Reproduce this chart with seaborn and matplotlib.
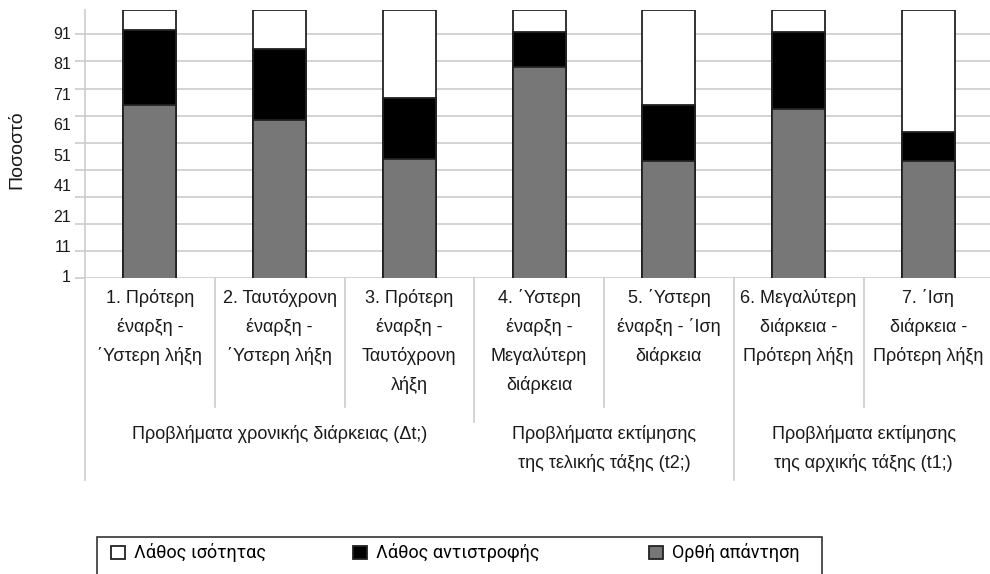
import numpy as np
import pandas as pd
import seaborn as sns
import matplotlib.pyplot as plt
from matplotlib.patches import Patch, Rectangle
from matplotlib.transforms import blended_transform_factory

# Δεδομένα (ποσοστά)
categories = [
    "1. Πρότερη\nέναρξη -\n΄Υστερη λήξη",
    "2. Ταυτόχρονη\nέναρξη -\n΄Υστερη λήξη",
    "3. Πρότερη\nέναρξη -\nΤαυτόχρονη\nλήξη",
    "4. ΄Υστερη\nέναρξη -\nΜεγαλύτερη\nδιάρκεια",
    "5. ΄Υστερη\nέναρξη - ΄Ιση\nδιάρκεια",
    "6. Μεγαλύτερη\nδιάρκεια -\nΠρότερη λήξη",
    "7. ΄Ιση\nδιάρκεια -\nΠρότερη λήξη",
]
correct = [64.9, 59.4, 44.8, 78.8, 44.1, 63.5, 44.1]
inversion_err = [27.7, 26.1, 22.8, 13.0, 20.7, 28.3, 10.8]
equality_err = [7.4, 14.5, 32.4, 8.2, 35.2, 8.2, 45.1]

series_names = ["Λάθος ισότητας", "Λάθος αντιστροφής", "Ορθή απάντηση"]
series_colors = ["white", "black", "#777777"]

groups = [
    "Προβλήματα χρονικής διάρκειας (Δt;)",
    "Προβλήματα εκτίμησης\nτης τελικής τάξης (t2;)",
    "Προβλήματα εκτίμησης\nτης αρχικής τάξης (t1;)",
]
group_sizes = [3, 2, 2]

ytick_labels = ["91", "81", "71", "61", "51", "41", "21", "11", "1"]

df = pd.DataFrame({
    "cat": categories,
    "correct": correct,
    "inversion": inversion_err,
    "equality": equality_err,
})
df["c1"] = df["correct"]
df["c2"] = df["correct"] + df["inversion"]
df["c3"] = df["c2"] + df["equality"]

plt.rcParams["font.family"] = ["Liberation Sans", "DejaVu Sans"]
grid_col = "#cccccc"
edge_col = "#222222"
txt_col = "#1a1a1a"

fig = plt.figure(figsize=(9.9, 5.74), dpi=100)
ax = fig.add_axes([85 / 990, 1 - 278 / 574, 905 / 990, 268 / 574])

# Στοιβαγμένες μπάρες (σωρευτικά ύψη)
for col, color in zip(["c3", "c2", "c1"], series_colors):
    sns.barplot(data=df, x="cat", y=col, color=color, edgecolor=edge_col,
                linewidth=1.3, width=0.41, errorbar=None, saturation=1,
                ax=ax, zorder=3)

ax.set_ylim(1, 100)
ax.set_xlim(-0.5, -0.5 + 905 / 129.75)
ax.set_xlabel("")
ax.set_ylabel("")

# Οριζόντιες γραμμές πλέγματος
ax.set_yticks(np.arange(1, 92, 10))
ax.set_yticklabels([])
ax.yaxis.grid(True, color=grid_col, linewidth=1.2, zorder=0)
ax.set_axisbelow(True)
ax.tick_params(axis="y", length=7, color=grid_col, width=1.2)
for sp in ["top", "right", "bottom"]:
    ax.spines[sp].set_visible(False)
ax.spines["left"].set_color(grid_col)
ax.spines["left"].set_linewidth(1.2)

ylab_tr = blended_transform_factory(ax.transAxes, ax.transData)
for lab, yy in zip(ytick_labels, np.linspace(91, 1, len(ytick_labels))):
    ax.text(-14 / 905, yy, lab, transform=ylab_tr, ha="right", va="center",
            fontsize=11.5, color=txt_col)

fig.text(17 / 990, 1 - 150 / 574, "Ποσοστό", rotation=90, ha="center",
         va="center", fontsize=14, color=txt_col)

# Ετικέτες κατηγοριών
ax.set_xticks(range(len(categories)))
ax.set_xticklabels(categories, fontsize=13, linespacing=1.78, color=txt_col)
ax.tick_params(axis="x", length=0, pad=8)

# Διαχωριστικές γραμμές
sep_tr = blended_transform_factory(ax.transData, ax.transAxes)
bounds = np.cumsum([0] + group_sizes)
for k in range(len(categories)):
    x = k - 0.5
    if k == 0 or k == bounds[2]:
        ybot = (278 - 480) / 268
    elif k == bounds[1]:
        ybot = (278 - 422) / 268
    else:
        ybot = (278 - 407) / 268
    ax.plot([x, x], [0, ybot], transform=sep_tr, color=grid_col,
            linewidth=1.2, clip_on=False)

# Ετικέτες ομάδων
for g, s0, s1 in zip(groups, bounds[:-1], bounds[1:]):
    xc = (s0 + s1 - 1) / 2
    ax.text(xc, (278 - 425) / 268, g, transform=sep_tr, ha="center", va="top",
            fontsize=13, linespacing=1.75, color=txt_col)

# Υπόμνημα
legend_x = [102, 344, 640]
for name, color, lx in zip(series_names, series_colors, legend_x):
    h = Patch(facecolor=color, edgecolor=edge_col, linewidth=1.3)
    fig.legend([h], [name], loc="center left",
               bbox_to_anchor=(lx / 990, 1 - 553 / 574), frameon=False,
               handlelength=0.75, handleheight=0.75, handletextpad=0.5,
               borderpad=0,
               prop={"family": ["Roboto", "DejaVu Sans"], "size": 13})
fig.patches.append(Rectangle((97 / 990, -0.1), (822 - 97) / 990,
                             (574 - 537) / 574 + 0.1, transform=fig.transFigure,
                             fill=False, edgecolor="#333333", linewidth=1.2))

fig.savefig("out.png", dpi=100)
